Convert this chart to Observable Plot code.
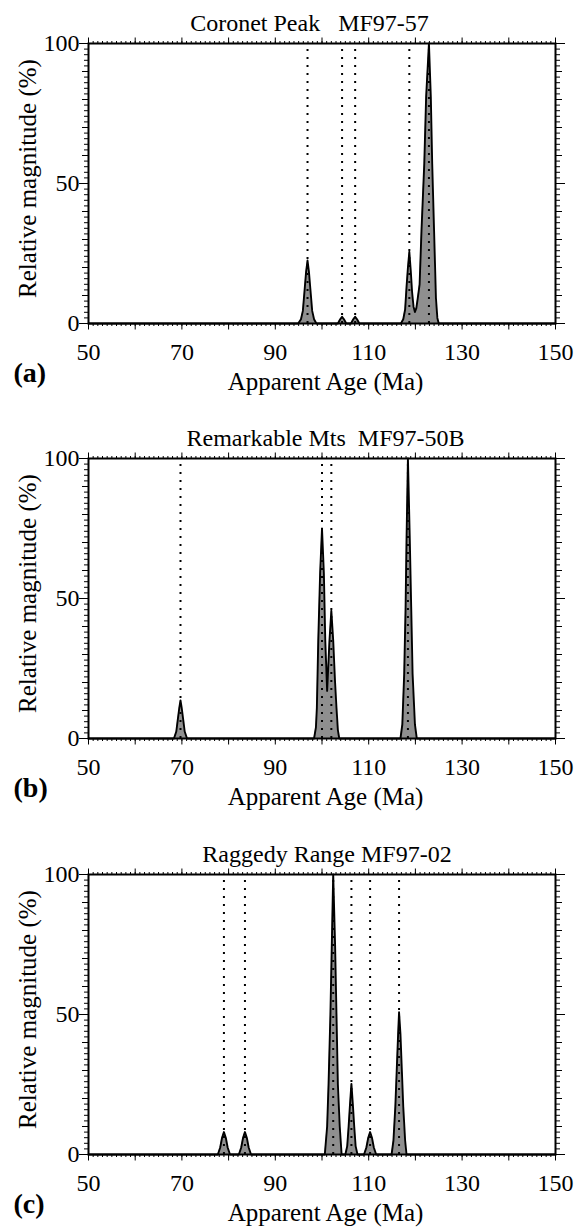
<!DOCTYPE html>
<html><head><meta charset="utf-8">
<script src="https://cdn.jsdelivr.net/npm/d3@7"></script>
<script src="https://cdn.jsdelivr.net/npm/@observablehq/plot@0.6"></script>
<style>
html,body{margin:0;padding:0;background:#fff;}
#chart svg{display:block;}
#chart svg text{font-family:"Liberation Serif", serif !important;}
</style></head><body><div id="chart"></div>
<script>
// ---- text ----
const titles = ["Coronet Peak\u00a0\u00a0\u00a0MF97-57", "Remarkable Mts\u00a0\u00a0MF97-50B", "Raggedy Range MF97-02"];
const panelLabels = ["(a)", "(b)", "(c)"];
const xLabel = "Apparent Age (Ma)";
const yLabel = "Relative magnitude (%)";
const xTickLabels = [50, 70, 90, 110, 130, 150];
const yTickLabels = [0, 50, 100];

// ---- panel (a) Coronet Peak ----
const agesA = [50,
  94.9, 95.5, 95.9, 96.3, 96.6, 96.9, 97.2, 97.5, 97.9, 98.3, 98.8,
  103.4, 103.9, 104.3, 104.7, 105.2,
  106.2, 106.7, 107.1, 107.5, 108.0,
  116.9, 117.4, 117.8, 118.1, 118.4, 118.7, 119.0, 119.3, 119.6, 119.9, 120.2, 120.5, 120.9, 121.3, 121.9, 122.3, 122.9, 123.3, 123.6, 124.0, 124.4, 124.7, 125.0,
  150];
const magA = [0,
  0, 1.5, 4.5, 12.5, 18.5, 22.5, 18.5, 12.5, 4.5, 1.5, 0,
  0, 1.5, 2.4, 1.5, 0,
  0, 1.5, 2.4, 1.5, 0,
  0, 1.5, 5, 13, 20, 25.6, 19, 11, 6, 4.1, 5.5, 9, 14, 33, 57, 81, 100, 81, 57, 33, 9, 2, 0,
  0];
const peaksA = [96.9, 104.3, 107.1, 118.7, 122.9];

// ---- panel (b) Remarkable Mts ----
const agesB = [50,
  68.3, 68.8, 69.1, 69.45, 69.7, 69.95, 70.3, 70.6, 71.1,
  98.3, 98.7, 98.9, 99.2, 99.6, 100.0, 100.4, 100.7, 101.1, 101.6, 102.0, 102.4, 102.8, 103.1, 103.4, 103.7,
  116.8, 117.2, 117.6, 117.9, 118.1, 118.4, 118.8, 119.1, 119.4, 119.9, 120.3,
  150];
const magB = [0,
  0, 2.5, 6.5, 11, 13.6, 11, 6.5, 2.5, 0,
  0, 4, 11, 35, 59, 75, 59, 35, 17, 35, 45.6, 35, 20, 11, 3, 0,
  0, 5, 23, 47, 71, 100, 71, 47, 23, 5, 0,
  0];
const peaksB = [69.7, 100.0, 102.0, 118.4];

// ---- panel (c) Raggedy Range ----
const agesC = [50,
  77.7, 78.2, 78.6, 79.0, 79.4, 79.8, 80.3,
  82.2, 82.7, 83.1, 83.5, 83.9, 84.3, 84.8,
  100.6, 101.1, 101.4, 101.8, 102.1, 102.4, 102.8, 103.1, 103.4, 103.8, 104.2,
  105.0, 105.4, 105.7, 106.0, 106.3, 106.6, 106.9, 107.2, 107.6,
  109.0, 109.5, 109.9, 110.3, 110.7, 111.1, 111.6,
  114.9, 115.3, 115.7, 116.0, 116.3, 116.5, 116.8, 117.1, 117.4, 117.8, 118.1,
  150];
const magC = [0,
  0, 2.5, 6, 8, 6, 2.5, 0,
  0, 2.5, 6, 8, 6, 2.5, 0,
  0, 10, 25, 50, 75, 100, 75, 50, 25, 10, 0,
  0, 3, 10, 18, 25.2, 18, 10, 3, 0,
  0, 2.5, 6, 8, 6, 2.5, 0,
  0, 5, 17, 30, 43, 50.8, 43, 30, 17, 5, 0,
  0];
const peaksC = [79.0, 83.5, 102.4, 106.3, 110.3, 116.5];

// ---- layout (not data) ----
const layout = [
  {height: 415, marginBottom: 92, titleDx: -12.5},
  {height: 416, marginBottom: 93, titleDx: 3.5},
  {height: 397, marginBottom: 74, titleDx: 5}
];
const FONT = "Liberation Serif";

function panel(i, ages, mags, peaks) {
  const L = layout[i];
  const data = ages.map((a, j) => ({age: a, mag: mags[j]}));
  const peakData = peaks.map(p => ({age: p}));
  const tickOnly = {fill: "none", label: null, stroke: "#000", strokeWidth: 1};
  const txt = {fill: "#000", fontFamily: FONT, lineAnchor: "middle"};
  return Plot.plot({
    width: 577, height: L.height,
    marginLeft: 88, marginRight: 22, marginTop: 43, marginBottom: L.marginBottom,
    style: {fontFamily: FONT, background: "#fff", color: "#000"},
    x: {domain: [50, 150], axis: null},
    y: {domain: [0, 100], axis: null},
    marks: [
      Plot.areaY(data, {x: "age", y: "mag", fill: "#8f8f8f"}),
      Plot.ruleX(peakData, {x: "age", y1: 0, y2: 100, stroke: "#000", strokeWidth: 2, strokeDasharray: "2,6"}),
      Plot.lineY(data, {x: "age", y: "mag", stroke: "#000", strokeWidth: 1.9}),
      // tick marks
      Plot.axisX({anchor: "bottom", ticks: d3.range(50, 151, 1), tickSize: 3, ...tickOnly}),
      Plot.axisX({anchor: "bottom", ticks: d3.range(50, 151, 10), tickSize: 6.5, ...tickOnly}),
      Plot.axisX({anchor: "top", ticks: d3.range(50, 151, 1), tickSize: 3, ...tickOnly}),
      Plot.axisX({anchor: "top", ticks: d3.range(50, 151, 10), tickSize: 6.5, ...tickOnly}),
      Plot.axisY({anchor: "left", ticks: d3.range(0, 101, 2), tickSize: 4, ...tickOnly}),
      Plot.axisY({anchor: "left", ticks: d3.range(0, 101, 10), tickSize: 6, ...tickOnly}),
      Plot.axisY({anchor: "left", ticks: yTickLabels, tickSize: 9, ...tickOnly}),
      Plot.axisY({anchor: "right", ticks: d3.range(0, 101, 2), tickSize: 4, ...tickOnly}),
      Plot.axisY({anchor: "right", ticks: d3.range(0, 101, 10), tickSize: 6, ...tickOnly}),
      Plot.axisY({anchor: "right", ticks: yTickLabels, tickSize: 9, ...tickOnly}),
      // tick labels
      Plot.axisX({anchor: "bottom", ticks: xTickLabels, tickSize: 0, tickPadding: 19.5, fontSize: 24, label: null, fill: "#000"}),
      Plot.axisY({anchor: "left", ticks: yTickLabels, tickSize: 0, tickPadding: 9, fontSize: 24, label: null, fill: "#000"}),
      Plot.frame({stroke: "#000", strokeWidth: 2}),
      // texts
      Plot.text([titles[i]], {...txt, text: d => d, frameAnchor: "top", textAnchor: "middle", dx: L.titleDx, dy: -20, fontSize: 24}),
      Plot.text([xLabel], {...txt, text: d => d, frameAnchor: "bottom", textAnchor: "middle", dx: 3.5, dy: 58, fontSize: 25}),
      Plot.text([yLabel], {...txt, text: d => d, frameAnchor: "left", textAnchor: "middle", rotate: -90, dx: -61, dy: -5, fontSize: 25}),
      Plot.text([panelLabels[i]], {...txt, text: d => d, frameAnchor: "bottom-left", dx: -75, dy: 50, textAnchor: "start", fontSize: 28, fontWeight: "bold"})
    ]
  });
}

const root = document.getElementById("chart");
root.append(panel(0, agesA, magA, peaksA));
root.append(panel(1, agesB, magB, peaksB));
root.append(panel(2, agesC, magC, peaksC));
</script>
</body></html>
